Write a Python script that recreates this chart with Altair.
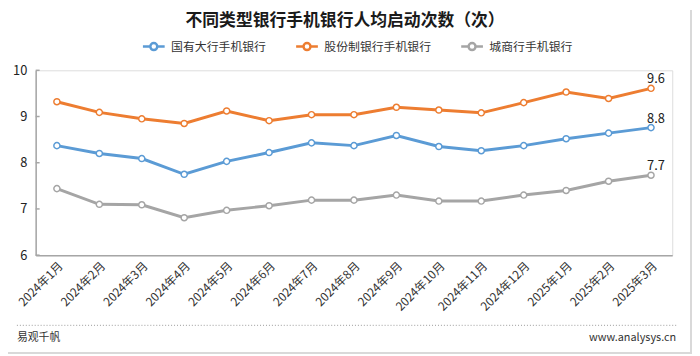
import altair as alt
import pandas as pd

# ---- data ----
months = ["2024年1月", "2024年2月", "2024年3月", "2024年4月", "2024年5月", "2024年6月",
          "2024年7月", "2024年8月", "2024年9月", "2024年10月", "2024年11月", "2024年12月",
          "2025年1月", "2025年2月", "2025年3月"]
series_names = ["国有大行手机银行", "股份制银行手机银行", "城商行手机银行"]
big_banks = [8.37, 8.20, 8.09, 7.75, 8.03, 8.22, 8.43, 8.37, 8.59, 8.35, 8.26, 8.37, 8.52, 8.64, 8.76]
joint_stock = [9.32, 9.09, 8.95, 8.85, 9.12, 8.91, 9.04, 9.04, 9.20, 9.14, 9.08, 9.30, 9.53, 9.39, 9.61]
city_banks = [7.44, 7.10, 7.09, 6.81, 6.97, 7.07, 7.19, 7.19, 7.30, 7.17, 7.17, 7.30, 7.40, 7.60, 7.73]
y_ticks = [6, 7, 8, 9, 10]
colors = ["#5B9BD5", "#ED7D31", "#A5A5A5"]

title_text = "不同类型银行手机银行人均启动次数（次）"
source_text = "易观千帆"
site_text = "www.analysys.cn"

FONT = "Noto Sans CJK SC"

rows = []
for name, vals in zip(series_names, [big_banks, joint_stock, city_banks]):
    for m, v in zip(months, vals):
        rows.append({"月份": m, "类型": name, "值": v})
df = pd.DataFrame(rows)
one = pd.DataFrame({"k": [0]})

legend_path = ("M-1,0H-0.32 M0.32,0H1 M-0.32,0 A0.32,0.32 0 1,0 0.32,0 "
               "A0.32,0.32 0 1,0 -0.32,0 Z")

x_enc = alt.X("月份:N", sort=months,
              scale=alt.Scale(type="point", padding=0.5),
              axis=alt.Axis(title=None, labelAngle=-45, ticks=False, labelPadding=5,
                            labelFontSize=12, labelColor="#333333", labelFont=FONT,
                            domainColor="#a6a6a6", domainWidth=1.5, grid=False))
y_enc = alt.Y("值:Q", scale=alt.Scale(domain=[6, 10], nice=False, zero=False),
              axis=alt.Axis(title=None, values=y_ticks, ticks=False, grid=False,
                            labelPadding=9, labelFontSize=13, labelColor="#222222",
                            labelFont=FONT, domainColor="#a6a6a6", domainWidth=1.5))
color_enc = alt.Color("类型:N",
                      scale=alt.Scale(domain=series_names, range=colors),
                      legend=alt.Legend(title=None, orient="none", legendX=107, legendY=-37,
                                        direction="horizontal", symbolType=legend_path,
                                        symbolSize=484, symbolStrokeWidth=2.5,
                                        symbolFillColor="white", labelFontSize=12,
                                        labelColor="#333333", labelFont=FONT,
                                        columnPadding=24, labelOffset=5))

base = alt.Chart(df)

lines = base.mark_line(
    strokeWidth=3,
    point=alt.OverlayMarkDef(filled=False, fill="white", size=38, strokeWidth=1.5),
).encode(x=x_enc, y=y_enc, color=color_enc)

end_labels = base.transform_filter(
    alt.datum["月份"] == months[-1]
).mark_text(dx=5, dy=-5, baseline="alphabetic", align="center", fontSize=13,
            color="#222222", font=FONT).encode(
    x=alt.X("月份:N", sort=months),
    y=alt.Y("值:Q"),
    text=alt.Text("值:Q", format=".1f"),
)

ticks = alt.Chart(pd.DataFrame({"值": y_ticks})).mark_rule(
    color="#a6a6a6", strokeWidth=1.5
).encode(y=alt.Y("值:Q"), x=alt.value(0), x2=alt.value(4))

title_mark = alt.Chart(one).mark_text(
    align="center", baseline="middle", fontSize=17, fontWeight="bold",
    color="#1a1a1a", font=FONT
).encode(x=alt.value(313), y=alt.value(-50), text=alt.value(title_text))

footer_rule = alt.Chart(one).mark_rule(
    color="#9a9a9a", strokeWidth=1, strokeDash=[1, 2]
).encode(x=alt.value(-19), x2=alt.value(648), y=alt.value(258))

footer_left = alt.Chart(one).mark_text(
    align="left", baseline="middle", fontSize=11, color="#333333", font=FONT
).encode(x=alt.value(-19), y=alt.value(271), text=alt.value(source_text))

footer_right = alt.Chart(one).mark_text(
    align="right", baseline="middle", fontSize=11, color="#333333", font=FONT
).encode(x=alt.value(648), y=alt.value(271), text=alt.value(site_text))

border_right = alt.Chart(one).mark_rule(
    color="#d9d9d9", strokeWidth=2
).encode(x=alt.value(663), y=alt.value(-61), y2=alt.value(287))

border_bottom = alt.Chart(one).mark_rule(
    color="#d9d9d9", strokeWidth=2
).encode(x=alt.value(-28), x2=alt.value(664), y=alt.value(286))

chart = alt.layer(
    border_right, border_bottom, title_mark, footer_rule, footer_left, footer_right,
    ticks, lines, end_labels
).properties(
    width=644, height=187,
    padding={"left": 28, "top": 61, "right": 20, "bottom": 100},
    autosize=alt.AutoSizeParams(type="none"),
).configure_view(stroke=None).configure(background="white")

chart.save("out.html", embed_options={"renderer": "svg", "actions": False})
